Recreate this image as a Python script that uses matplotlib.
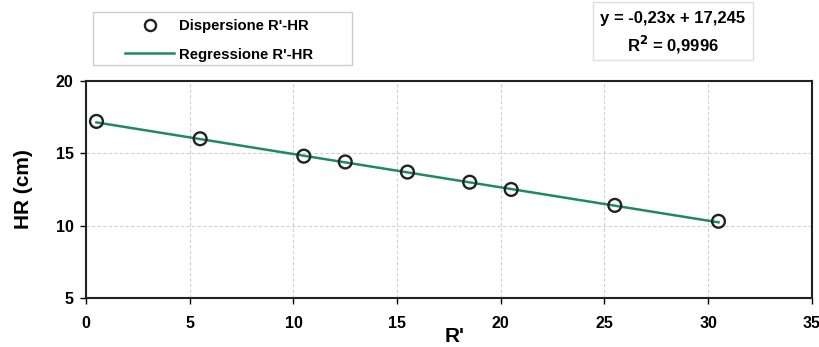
import matplotlib
matplotlib.use("Agg")
import matplotlib.pyplot as plt
import numpy as np
from matplotlib.lines import Line2D
from matplotlib.patches import Rectangle

plt.rcParams['font.family'] = ['Liberation Sans', 'DejaVu Sans']
plt.rcParams['font.weight'] = 'bold'

r_prime = [0.5, 5.5, 10.5, 12.5, 15.5, 18.5, 20.5, 25.5, 30.5]
hr_cm = [17.2, 16.0, 14.8, 14.4, 13.7, 13.0, 12.5, 11.4, 10.3]
slope = -0.23
intercept = 17.245
r2_text = "0,9996"
x_ticks = [0, 5, 10, 15, 20, 25, 30, 35]
y_ticks = [5, 10, 15, 20]

fig = plt.figure(figsize=(8.2, 3.47), dpi=100)
ax = fig.add_axes([0.105, 0.141, 0.885, 0.626])

green = '#1f8a5c'
reg_x = np.array([r_prime[0], r_prime[-1]])
ax.plot(reg_x, slope * reg_x + intercept, color=green, lw=1.8, zorder=2)
ax.scatter(r_prime, hr_cm, s=85, facecolors='none', edgecolors='#222222', linewidths=1.7, zorder=3)

ax.set_xlim(0, 35)
ax.set_ylim(5, 20)
ax.set_xticks(x_ticks)
ax.set_yticks(y_ticks)
ax.tick_params(axis='both', labelsize=11.5, length=4, width=1, direction='out')
ax.tick_params(axis='x', pad=9)
ax.tick_params(axis='y', pad=5)
for lab in ax.get_xticklabels() + ax.get_yticklabels():
    lab.set_fontweight('bold')
ax.grid(True, color='#d0d0d0', lw=0.8, ls=(0, (3, 2)))
ax.set_axisbelow(True)
for s in ax.spines.values():
    s.set_linewidth(1.5)
    s.set_color('#222222')

ax.set_ylabel("HR (cm)", fontsize=15, fontweight='bold')
ax.yaxis.set_label_coords(-0.073, 0.5)
ax.set_xlabel("R'", fontsize=15, fontweight='bold')
ax.xaxis.set_label_coords(0.508, -0.135)

handles = [
    Line2D([], [], ls='none', marker='o', markerfacecolor='none', markeredgecolor='#222222', markeredgewidth=1.7, markersize=8),
    Line2D([], [], color=green, lw=1.8),
]
leg = fig.legend(handles, ["Dispersione R'-HR", "Regressione R'-HR"],
                 loc='upper left', bbox_to_anchor=(118/820, 1 - 12/347),
                 frameon=False, fontsize=10.7, handlelength=3.3, handletextpad=0.3,
                 borderpad=0.5, labelspacing=0.95, borderaxespad=0)
for t in leg.get_texts():
    t.set_fontweight('bold')
fig.patches.append(Rectangle((93/820, 1 - 65/347), 259/820, 53/347, transform=fig.transFigure,
                             fill=False, edgecolor='#cccccc', lw=1))

fig.text(673/820, 1 - 19/347, "y = -0,23x + 17,245", ha='center', va='center', fontsize=12, fontweight='bold')
fig.text(673/820, 1 - 45/347, "R$^{\\mathbf{2}}$ = " + r2_text, ha='center', va='center', fontsize=12, fontweight='bold')
fig.patches.append(Rectangle((593/820, 1 - 60/347), 160/820, 58/347, transform=fig.transFigure,
                             fill=False, edgecolor='#e0e0e0', lw=1))

fig.savefig("out.png", dpi=100)
